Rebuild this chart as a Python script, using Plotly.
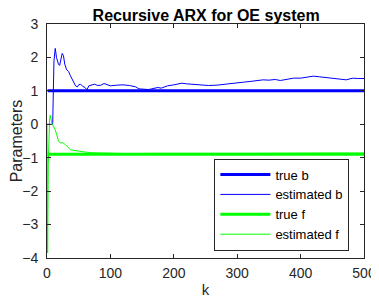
import plotly.graph_objects as go

# ---- data ----
k_true = [1, 500]
true_b = [1.0, 1.0]
true_f = [-0.9, -0.9]

k_est_b = [0, 9, 10, 11, 13, 15, 18, 20, 22, 24, 26, 28, 31, 34, 37, 40, 43, 45, 48,
           50, 53, 56, 60, 63, 66, 70, 75, 80, 85, 90, 95, 100, 110, 120, 130, 136,
           140, 145, 150, 155, 160, 165, 170, 175, 180, 185, 190, 200, 210, 213, 220,
           230, 236, 245, 255, 268, 280, 290, 300, 310, 320, 330, 341, 350, 360, 368,
           375, 380, 389, 400, 410, 420, 430, 440, 446, 455, 465, 472, 478, 483, 490, 500]
est_b = [0.0, 0.0, 1.0, 1.9, 2.27, 2.0, 1.8, 1.76, 1.95, 2.12, 2.05, 1.8, 1.63, 1.58,
         1.45, 1.33, 1.25, 1.15, 1.12, 1.18, 1.2, 1.14, 1.1, 1.03, 1.15, 1.18, 1.2,
         1.16, 1.17, 1.22, 1.18, 1.15, 1.17, 1.18, 1.16, 1.14, 1.12, 1.06, 1.05, 1.06,
         1.04, 1.06, 1.07, 1.1, 1.08, 1.12, 1.15, 1.18, 1.22, 1.23, 1.21, 1.2, 1.18,
         1.17, 1.16, 1.17, 1.2, 1.23, 1.25, 1.26, 1.28, 1.3, 1.33, 1.32, 1.34, 1.31,
         1.34, 1.36, 1.38, 1.38, 1.4, 1.44, 1.42, 1.4, 1.38, 1.37, 1.35, 1.33, 1.36,
         1.38, 1.37, 1.37]

k_est_f = [0, 1, 2, 3, 4, 5, 6, 7, 8, 10, 13, 16, 18, 21, 25, 29, 33, 37, 42, 47, 52,
           60, 68, 80, 100, 130, 160, 200, 250, 300, 350, 400, 450, 500]
est_f = [0.0, -3.85, -1.2, 0.0, 0.1, 0.27, 0.15, 0.02, 0.0, -0.05, -0.17, -0.35, -0.5,
         -0.56, -0.55, -0.61, -0.68, -0.76, -0.78, -0.8, -0.81, -0.83, -0.85, -0.86,
         -0.87, -0.88, -0.87, -0.88, -0.87, -0.87, -0.86, -0.87, -0.86, -0.86]

x_ticks = [0, 100, 200, 300, 400, 500]
y_ticks = [-4, -3, -2, -1, 0, 1, 2, 3]

FONT = "Arial, Liberation Sans, sans-serif"
AX = "#262626"

fig = go.Figure()
fig.add_trace(go.Scatter(x=k_true, y=true_b, mode="lines", name="true b",
                         line=dict(color="#0000ff", width=3)))
fig.add_trace(go.Scatter(x=k_est_b, y=est_b, mode="lines", name="estimated b",
                         line=dict(color="#0000ff", width=1)))
fig.add_trace(go.Scatter(x=k_true, y=true_f, mode="lines", name="true f",
                         line=dict(color="#00ff00", width=3)))
fig.add_trace(go.Scatter(x=k_est_f, y=est_f, mode="lines", name="estimated f",
                         line=dict(color="#00ff00", width=1)))

axis_common = dict(showline=True, linecolor=AX, linewidth=1, mirror="ticks",
                   ticks="inside", ticklen=4, tickcolor=AX, showgrid=False,
                   zeroline=False, automargin=False,
                   tickfont=dict(family=FONT, size=14, color=AX))

fig.update_xaxes(range=[0, 500], tickvals=x_ticks, ticklabelstandoff=2,
                 title=dict(text="k", font=dict(family=FONT, size=15, color=AX), standoff=4),
                 **axis_common)
fig.update_yaxes(range=[-4, 3], tickvals=y_ticks, ticklabelstandoff=5,
                 title=dict(text="Parameters", font=dict(family=FONT, size=16, color=AX), standoff=0),
                 **axis_common)

# the page body has an 8px offset, so the figure is sized 8px smaller
fig.update_layout(
    width=371, height=293,
    margin=dict(l=39, r=15, t=16, b=43),
    paper_bgcolor="white", plot_bgcolor="white",
    title=dict(text="<b>Recursive ARX for OE system</b>", x=0.534, xanchor="center",
               y=1 - 7.5 / 293, yanchor="middle", yref="container",
               font=dict(family=FONT, size=16, color="black")),
    showlegend=True,
    legend=dict(x=0.528, y=0.425, xanchor="left", yanchor="top",
                bgcolor="white", bordercolor=AX, borderwidth=1,
                font=dict(family=FONT, size=13, color="black"),
                itemwidth=50, tracegroupgap=0),
)

fig.write_html("out.html")
